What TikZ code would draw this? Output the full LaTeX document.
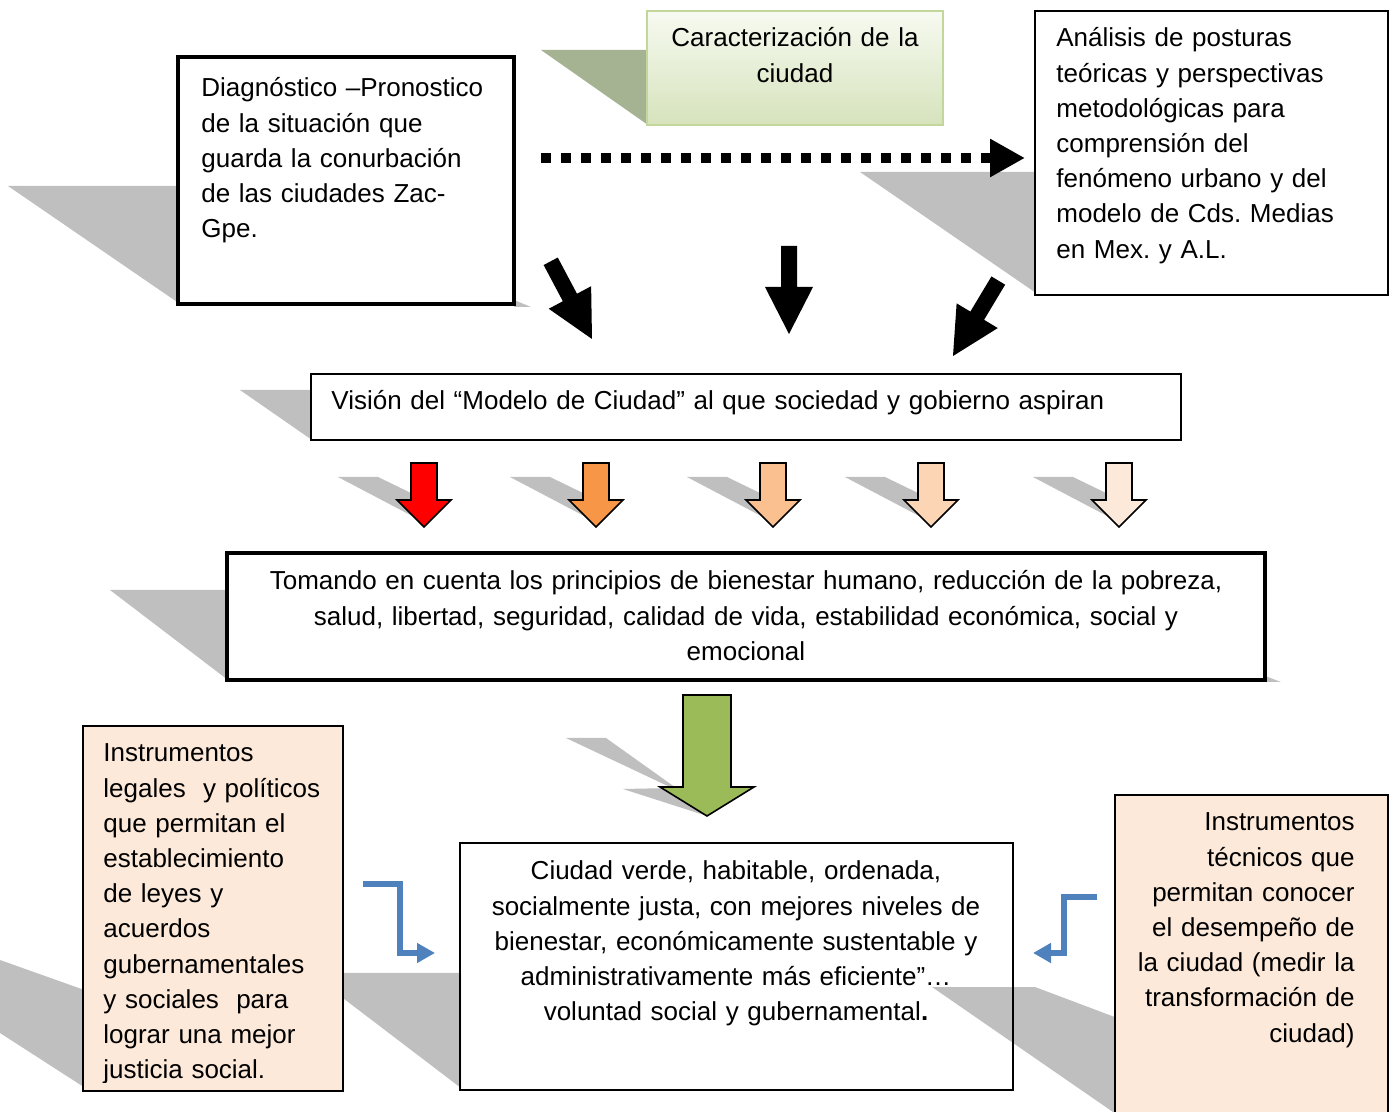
\documentclass[tikz,border=0pt]{standalone}
\usepackage{fontspec}
\setmainfont{Liberation Sans}
\usetikzlibrary{arrows.meta,fit}
\frenchspacing

\definecolor{shadowgray}{RGB}{191,191,191}
\definecolor{olivegray}{RGB}{166,179,146}
\definecolor{caractop}{RGB}{247,250,241}
\definecolor{caracbot}{RGB}{214,227,188}
\definecolor{caracline}{RGB}{195,214,155}
\definecolor{peach}{RGB}{253,233,217}
\definecolor{leafgreen}{RGB}{155,187,89}
\definecolor{elbowblue}{RGB}{79,129,189}
\definecolor{orangeA}{RGB}{247,150,70}
\definecolor{orangeB}{RGB}{250,192,144}
\definecolor{orangeC}{RGB}{252,213,181}
\definecolor{orangeD}{RGB}{253,233,217}

\begin{document}
\begin{tikzpicture}[x=0.5pt,y=-0.5pt]

      \tikzset{box/.style={draw, line width=1pt, inner sep=0pt},
               thickbox/.style={box, line width=2pt},
               txt/.style={inner sep=0pt, font=\fontsize{13}{17.6}\selectfont, text width=#1},
               grayshadow/.style={fill=shadowgray},
               dotline/.style={line width=5pt, dash pattern=on 5pt off 5pt, -{Triangle[length=17.5pt,width=18pt]}},
               elbow/.style={draw=elbowblue, line width=2.75pt, -{Triangle[length=9pt,width=9.5pt]}},
               blackarrow/.pic={\fill (-8,-88) -- (8,-88) -- (8,-47) -- (24,-47) -- (0,0) -- (-24,-47) -- (-8,-47) -- cycle;},
               smallarrow/.pic={\draw[pic actions, line width=0.8pt] (-13,-64) -- (13,-64) -- (13,-27) -- (27,-27) -- (0,0) -- (-27,-27) -- (-13,-27) -- cycle;},
               smallshadow/.pic={\fill[shadowgray] (-86,-50) -- (-46,-50) -- (-13,-34) -- (0,-20) -- (-10,-10) -- cycle;},
               greenarrow/.pic={\draw[pic actions, line width=0.8pt] (-24,-121) -- (24,-121) -- (24,-29) -- (47,-29) -- (0,0) -- (-47,-29) -- (-24,-29) -- cycle;}}

      \useasboundingbox (0,0) rectangle (1389,1112);

%% Shadows
        \fill[grayshadow] (8,186) -- (180,186) -- (180,304) -- cycle;
        \fill[grayshadow] (514,300) -- (531,307) -- (514,307) -- cycle;
        \fill[olivegray] (541,50) -- (648,50) -- (648,125) -- cycle;
        \fill[grayshadow] (860,172) -- (1036,172) -- (1036,293) -- cycle;
        \fill[grayshadow] (240,390) -- (312,390) -- (312,440) -- cycle;
        \fill[grayshadow] (110,590) -- (228,590) -- (228,680) -- cycle;
        \fill[grayshadow] (1265,676) -- (1281,682) -- (1265,682) -- cycle;
        \fill[grayshadow] (0,960) -- (90,992) -- (90,1091) -- (0,1033) -- cycle;
        \fill[grayshadow] (310,973) -- (461,973) -- (461,1088) -- cycle;
        \fill[grayshadow] (932,987) -- (1035,987) -- (1120,1019) -- (1120,1112) -- (1113,1112) -- cycle;

%% Boxes
        \node[thickbox, fill=white, fit={(178,57) (514,304)}] (diag) {};
        \node[box, draw=caracline, line width=1.2pt, top color=caractop, bottom color=caracbot, fit={(647,11) (943,125)}] (caract) {};
        \node[box, fill=white, fit={(1035,11) (1388,295)}] (analisis) {};
        \node[box, line width=0.8pt, fill=white, fit={(311,374) (1181,440)}] (vision) {};
        \node[thickbox, fill=white, fit={(227,553) (1265,680)}] (tomando) {};
        \node[box, fill=peach, fit={(83,726) (343,1091)}] (legales) {};
        \node[box, fit={(460,843) (1013,1090)}] (ciudad) {};
        \node[box, fill=peach, fit={(1115,795) (1388,1130)}] (tecnicos) {};

%% Texts
        \node[txt=160pt, anchor=base west, align=left] (diagtext) at (201,97)
          {Diagnóstico –Pronostico\\de la situación que\\guarda la conurbación\\de las ciudades Zac-\\Gpe.};
        \node[txt=140pt, anchor=base, align=center] (caracttext) at (795,47)
          {Caracterización de la\\ciudad};
        \node[txt=160pt, anchor=base west, align=left] (analisistext) at (1056,47)
          {Análisis de posturas\\teóricas y perspectivas\\metodológicas para\\comprensión del\\fenómeno urbano y del\\modelo de Cds. Medias\\en Mex. y A.L.};
        \node[txt=430pt, anchor=base west, align=left] (visiontext) at (331,410)
          {Visión del “Modelo de Ciudad” al que sociedad y gobierno aspiran};
        \node[txt=510pt, anchor=base, align=center] (tomandotext) at (746,590)
          {Tomando en cuenta los principios de bienestar humano, reducción de la pobreza,\\salud, libertad, seguridad, calidad de vida, estabilidad económica, social y\\emocional};
        \begin{scope}
          \clip (83,726) rectangle (343,1082);
          \node[txt=120pt, anchor=base west, align=left] (legalestext) at (103,762)
            {Instrumentos\\legales\ \ y políticos\\que permitan el\\establecimiento\\de leyes y\\acuerdos\\gubernamentales\\y sociales\ \ para\\lograr una mejor\\justicia social.};
        \end{scope}
        \node[txt=270pt, anchor=base, align=center] (ciudadtext) at (736,880)
          {Ciudad verde, habitable, ordenada,\\socialmente justa, con mejores niveles de\\bienestar, económicamente sustentable y\\administrativamente más eficiente”…\\voluntad social y gubernamental\textbf{.}};
        \node[txt=120pt, anchor=base east, align=right] (tecnicostext) at (1355,831)
          {Instrumentos\\técnicos que\\permitan conocer\\el desempeño de\\la ciudad (medir la\\transformación de\\ciudad)};

%Arrows
        \coordinate (dotstart) at (541,158);
        \coordinate (dotend) at (1025,158);
        \draw[dotline] (dotstart) -- (dotend);

        \pic[rotate=28] at (592,339) {blackarrow};
        \pic at (789,334) {blackarrow};
        \pic[rotate=-31] at (953,356) {blackarrow};

        \foreach \x/\col in {424/red, 596/orangeA, 773/orangeB, 931/orangeC, 1119/orangeD} {
          \pic at (\x,527) {smallshadow};
          \pic[fill=\col] at (\x,527) {smallarrow};
        }

        \fill[grayshadow] (566,738) -- (606,738) -- (700,805) -- (707,816) -- (623,789) -- (672,788) -- cycle;
        \pic[fill=leafgreen] at (707,816) {greenarrow};

        \coordinate (lstart) at (363,884);
        \coordinate (lbend) at (400,953);
        \coordinate (lend) at (435,953);
        \draw[elbow] (lstart) -| (lbend) -- (lend);
        \coordinate (rstart) at (1097,897);
        \coordinate (rbend) at (1064,953);
        \coordinate (rend) at (1033,953);
        \draw[elbow] (rstart) -| (rbend) -- (rend);

\end{tikzpicture}
\end{document}
